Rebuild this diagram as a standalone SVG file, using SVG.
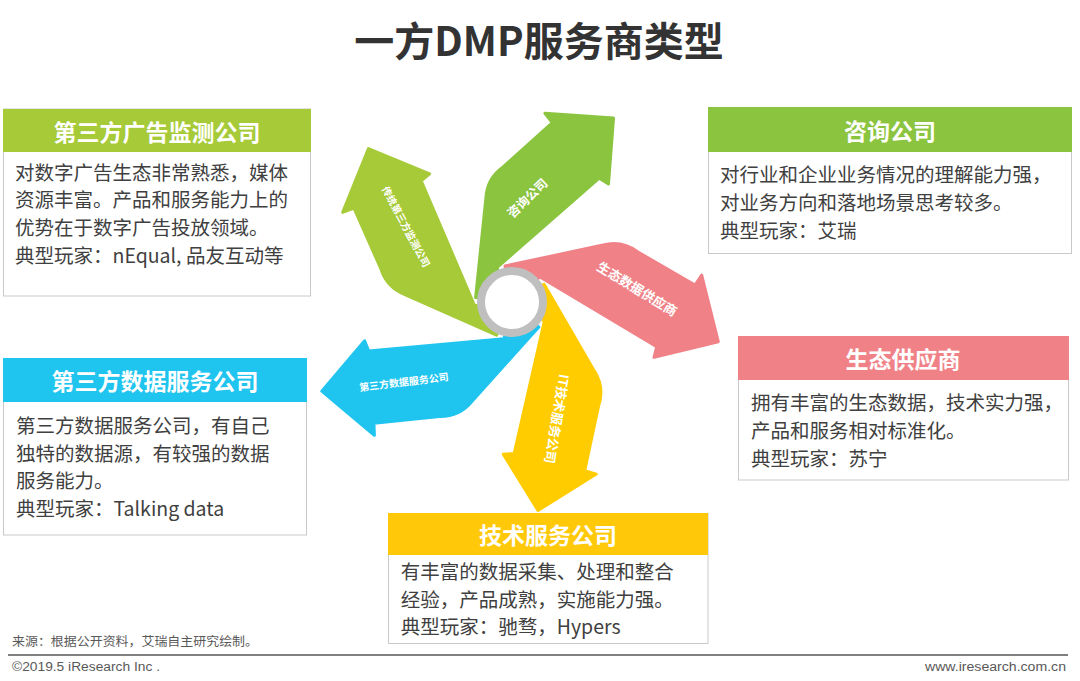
<svg xmlns="http://www.w3.org/2000/svg" width="1080" height="681" viewBox="0 0 1080 681">
<style>
.t{font-family:"Noto Sans CJK SC","Liberation Sans",sans-serif;}
.title{font-size:40px;font-weight:bold;fill:#333333;}
.hd{font-size:23px;font-weight:bold;fill:#ffffff;}
.b{font-size:19.5px;fill:#404040;}
.bl{font-size:13px;font-weight:bold;fill:#ffffff;}
.ft{font-family:"Liberation Sans Narrow","Liberation Sans","Noto Sans CJK SC",sans-serif;font-size:12.5px;fill:#595959;}
.box{fill:#ffffff;stroke:#C9C9C9;stroke-width:1;}
.blade{stroke-width:3;stroke-linejoin:round;}
</style>
<defs>
<path id="blade" d="M 512 302 L 505 266 L 603 245 Q 622 240 638 252 L 695 285 L 701.7 275 L 718.3 341.7 L 654 357.3 L 656.7 346.7 L 540 277 Z"/>
</defs>
<rect width="1080" height="681" fill="#ffffff"/>
<text class="t title" x="539" y="39" text-anchor="middle" dominant-baseline="central">一方DMP服务商类型</text>

<g id="connectors">
<g id="blade-pink"><use href="#blade" class="blade" fill="#F08287" stroke="#F08287"/></g>
<g id="blade-yellow"><use href="#blade" class="blade" fill="#FFCC00" stroke="#FFCC00" transform="rotate(72 512 302)"/></g>
<g id="blade-blue"><use href="#blade" class="blade" fill="#1FC4EF" stroke="#1FC4EF" transform="rotate(144 512 302)"/></g>
<g id="blade-lime"><use href="#blade" class="blade" fill="#A6CA38" stroke="#A6CA38" transform="rotate(216 512 302)"/></g>
<g id="blade-green"><use href="#blade" class="blade" fill="#8BC43F" stroke="#8BC43F" transform="rotate(288 512 302)"/></g>
<circle id="ring" cx="512" cy="302" r="31" fill="#ffffff" stroke="#BFBFBF" stroke-width="8"/>
<text class="t bl" x="637.5" y="288.3" text-anchor="middle" dominant-baseline="central" transform="rotate(31.5 637.5 288.3)">生态数据供应商</text>
<text class="t bl" x="557.5" y="419" text-anchor="middle" dominant-baseline="central" transform="rotate(99.6 557.5 419)">IT技术服务公司</text>
<text class="t bl" x="403.8" y="381.3" text-anchor="middle" dominant-baseline="central" style="font-size:10px" transform="rotate(-6.9 403.8 381.3)">第三方数据服务公司</text>
<text class="t bl" x="406.7" y="226.3" text-anchor="middle" dominant-baseline="central" style="font-size:10px" transform="rotate(61.8 406.7 226.3)">传统第三方监测公司</text>
<text class="t bl" x="526.7" y="197.5" text-anchor="middle" dominant-baseline="central" style="font-size:12.5px" transform="rotate(-43.6 526.7 197.5)">咨询公司</text>
</g>

<g id="node-ad-monitor">
<rect class="box" x="3.5" y="109" width="307" height="187"/>
<rect x="3" y="109" width="308" height="43" fill="#A6CA38"/>
<text class="t hd" x="157" y="130.5" text-anchor="middle" dominant-baseline="central">第三方广告监测公司</text>
<text class="t b" x="15" y="171" dominant-baseline="central">对数字广告生态非常熟悉，媒体</text>
<text class="t b" x="15" y="198.5" dominant-baseline="central">资源丰富。产品和服务能力上的</text>
<text class="t b" x="15" y="226" dominant-baseline="central">优势在于数字广告投放领域。</text>
<text class="t b" x="15" y="254" dominant-baseline="central">典型玩家：nEqual, 品友互动等</text>
</g>

<g id="node-consulting">
<rect class="box" x="708.5" y="107.5" width="363" height="146"/>
<rect x="708" y="107" width="364" height="45" fill="#8BC43F"/>
<text class="t hd" x="890" y="129.5" text-anchor="middle" dominant-baseline="central">咨询公司</text>
<text class="t b" x="720" y="173.5" dominant-baseline="central">对行业和企业业务情况的理解能力强，</text>
<text class="t b" x="720" y="201" dominant-baseline="central">对业务方向和落地场景思考较多。</text>
<text class="t b" x="720" y="229" dominant-baseline="central">典型玩家：艾瑞</text>
</g>

<g id="node-eco">
<rect class="box" x="738.5" y="336.5" width="330" height="143.5"/>
<rect x="738" y="336" width="331" height="44" fill="#F08287"/>
<text class="t hd" x="903" y="358" text-anchor="middle" dominant-baseline="central">生态供应商</text>
<text class="t b" x="751" y="401.5" dominant-baseline="central">拥有丰富的生态数据，技术实力强，</text>
<text class="t b" x="751" y="429" dominant-baseline="central">产品和服务相对标准化。</text>
<text class="t b" x="751" y="457" dominant-baseline="central">典型玩家：苏宁</text>
</g>

<g id="node-data-service">
<rect class="box" x="3.5" y="358.5" width="303" height="176.5"/>
<rect x="3" y="358" width="304" height="44" fill="#1FC4EF"/>
<text class="t hd" x="155" y="380" text-anchor="middle" dominant-baseline="central">第三方数据服务公司</text>
<text class="t b" x="16" y="424.5" dominant-baseline="central">第三方数据服务公司，有自己</text>
<text class="t b" x="16" y="452" dominant-baseline="central">独特的数据源，有较强的数据</text>
<text class="t b" x="16" y="479.5" dominant-baseline="central">服务能力。</text>
<text class="t b" x="16" y="507" dominant-baseline="central">典型玩家：Talking data</text>
</g>

<g id="node-tech">
<rect class="box" x="388.5" y="513.5" width="319.5" height="130"/>
<rect x="388" y="513" width="320" height="42" fill="#FFC90A"/>
<text class="t hd" x="548" y="534" text-anchor="middle" dominant-baseline="central">技术服务公司</text>
<text class="t b" x="400.7" y="570.5" dominant-baseline="central">有丰富的数据采集、处理和整合</text>
<text class="t b" x="400.7" y="598" dominant-baseline="central">经验，产品成熟，实施能力强。</text>
<text class="t b" x="400.7" y="625.5" dominant-baseline="central">典型玩家：驰骛，Hypers</text>
</g>

<g id="footer">
<text class="ft" x="12" y="645.5" textLength="246" lengthAdjust="spacingAndGlyphs">来源：根据公开资料，艾瑞自主研究绘制。</text>
<line x1="8" y1="655" x2="1068" y2="655" stroke="#808080" stroke-width="2"/>
<text class="ft" x="12" y="670.5" textLength="148" lengthAdjust="spacingAndGlyphs">©2019.5 iResearch Inc .</text>
<text class="ft" x="925" y="670.5" textLength="141" lengthAdjust="spacingAndGlyphs">www.iresearch.com.cn</text>
</g>
</svg>
